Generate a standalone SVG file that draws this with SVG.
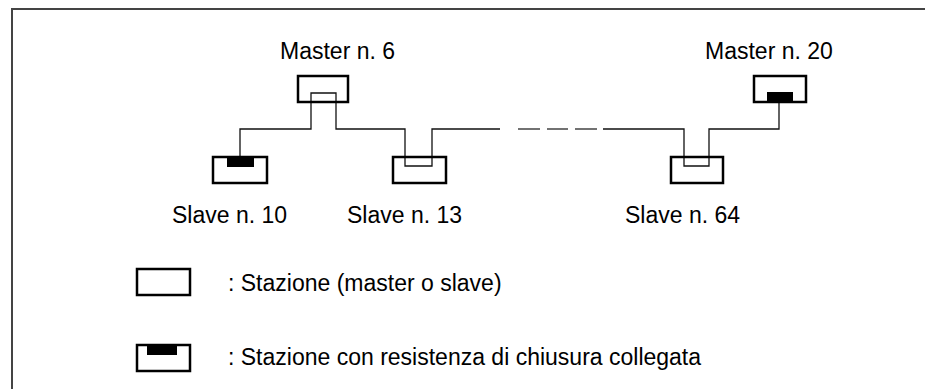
<svg xmlns="http://www.w3.org/2000/svg" width="925" height="389" viewBox="0 0 925 389">
<style>
.box{fill:none;stroke:#000;stroke-width:2.5}
.res{fill:#000}
.wire{fill:none;stroke:#111;stroke-width:1.3}
.dash{fill:none;stroke:#444;stroke-width:1.3}
text{font-family:"Liberation Sans",Arial,sans-serif;font-size:23px;fill:#000}
</style>
<rect width="925" height="389" fill="#fff"/>
<path d="M12,389 V9 H925" fill="none" stroke="#444" stroke-width="2"/>
<g id="connectors">
<path class="wire" d="M240,157 V129 H311 V93 H336 V129 H405 V166 H432 V129 H500"/>
<path class="dash" d="M518,129 H540 M547,129 H568 M575,129 H597"/>
<path class="wire" d="M603,129 H684 V166 H709 V129 H779 V102"/>
</g>
<g id="master6">
<rect class="box" x="298" y="76" width="50" height="26"/>
<text x="280" y="59">Master n. 6</text>
</g>
<g id="master20">
<rect class="box" x="754" y="76" width="52" height="26"/>
<rect class="res" x="767" y="92" width="26" height="10"/>
<text x="705" y="59">Master n. 20</text>
</g>
<g id="slave10">
<rect class="box" x="213" y="157" width="54" height="26"/>
<rect class="res" x="227" y="157" width="27" height="10"/>
<text x="172" y="223">Slave n. 10</text>
</g>
<g id="slave13">
<rect class="box" x="393" y="157" width="53" height="26"/>
<text x="347" y="223">Slave n. 13</text>
</g>
<g id="slave64">
<rect class="box" x="671" y="157" width="52" height="26"/>
<text x="625" y="223">Slave n. 64</text>
</g>
<g id="legend1">
<rect class="box" x="137" y="269" width="53" height="26"/>
<text x="228" y="291">: Stazione (master o slave)</text>
</g>
<g id="legend2">
<rect class="box" x="137" y="345" width="53" height="26"/>
<rect class="res" x="147" y="345" width="30" height="10"/>
<text x="228" y="365">: Stazione con resistenza di chiusura collegata</text>
</g>
</svg>
